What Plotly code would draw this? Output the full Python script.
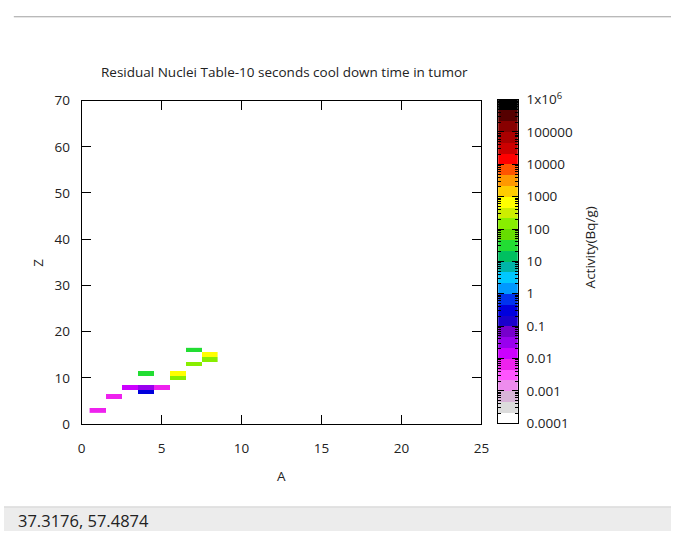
import numpy as np
import plotly.graph_objects as go

# Residual nuclei: mass number A, charge Z, activity in Bq/g
mass_number = [1, 2, 3, 4, 5, 4, 4, 6, 6, 7, 7, 8, 8]
charge = [3, 6, 8, 8, 8, 7, 11, 11, 10, 16, 13, 15, 14]
activity_bq_g = [0.007, 0.007, 0.015, 0.03, 0.006, 0.3, 30, 700, 150, 30, 150, 700, 150]

# Discrete palette: 30 bands, three per decade from 1e-4 to 1e6 (bottom to top)
band_colors = [
    "#ffffff", "#dcdcdc", "#d8b4d8", "#ee8cee", "#ff55ff", "#ee22ee",
    "#cc00ff", "#9900ee", "#7700cc", "#1a00cc", "#0000dd", "#0033ee",
    "#0099ff", "#00c8ff", "#00b4a8", "#00c060", "#22dd33", "#66dd00",
    "#88ee00", "#ccee00", "#ffff00", "#ffcc00", "#ff9900", "#ff5500",
    "#ff0000", "#cc0000", "#aa0000", "#880000", "#550000", "#000000",
]
log_min, log_max = -4, 6
cb_tickvals = list(range(log_min, log_max + 1))
cb_ticktext = ["0.0001", "0.001", "0.01", "0.1", "1", "10", "100",
               "1000", "10000", "100000", "1x10<sup>6</sup>"]
x_ticks = [0, 5, 10, 15, 20, 25]
y_ticks = [0, 10, 20, 30, 40, 50, 60, 70]

W, H = 679, 540
FONT = "Open Sans"
TXT = "#222222"
FS = 13.5


def px(x):
    return x / W


def py(y):
    return 1 - y / H


n_bands = len(band_colors)
colorscale = []
for i, c in enumerate(band_colors):
    colorscale.append([i / n_bands, c])
    colorscale.append([(i + 1) / n_bands, c])

# Fill the (A, Z) grid; empty cells stay transparent
a_axis = np.arange(min(mass_number), max(mass_number) + 1)
z_axis = np.arange(min(charge), max(charge) + 1)
grid = np.full((len(z_axis), len(a_axis)), np.nan)
for a, zc, act in zip(mass_number, charge, activity_bq_g):
    grid[zc - z_axis[0], a - a_axis[0]] = np.log10(act)

fig = go.Figure()
fig.add_trace(go.Heatmap(
    x=a_axis, y=z_axis, z=grid, coloraxis="coloraxis",
    hoverongaps=False, zsmooth=False,
))

# Colour key strip drawn on its own axes
band_step = (log_max - log_min) / n_bands
band_centers = [log_min + band_step * (i + 0.5) for i in range(n_bands)]
fig.add_trace(go.Heatmap(
    x=[0], y=band_centers, z=[[v] for v in band_centers],
    coloraxis="coloraxis", xaxis="x2", yaxis="y2", zsmooth=False,
    hoverinfo="skip",
))

minor_vals = [d + np.log10(k) for d in range(log_min, log_max) for k in range(2, 10)]

tick_font = dict(family=FONT, size=FS, color=TXT)
plot_x = [px(79), px(486)]
plot_y = [py(429), py(93)]

fig.update_layout(
    width=W, height=H,
    margin=dict(l=0, r=0, t=0, b=0),
    paper_bgcolor="white", plot_bgcolor="white",
    showlegend=False,
    coloraxis=dict(colorscale=colorscale, cmin=log_min, cmax=log_max, showscale=False),
    xaxis=dict(
        domain=plot_x, range=[0, 25], tickvals=x_ticks,
        ticks="inside", ticklen=9, tickcolor="black",
        showline=True, linecolor="black", linewidth=1, mirror="ticks",
        showgrid=False, zeroline=False, tickfont=tick_font,
        ticklabelstandoff=12,
    ),
    yaxis=dict(
        domain=plot_y, range=[0, 70], tickvals=y_ticks,
        ticks="inside", ticklen=9, tickcolor="black",
        showline=True, linecolor="black", linewidth=1, mirror="ticks",
        showgrid=False, zeroline=False, tickfont=tick_font,
        ticklabelstandoff=8,
    ),
    xaxis2=dict(
        domain=[px(503), px(523)], anchor="y2", range=[-0.5, 0.5],
        showticklabels=False, ticks="", showgrid=False, zeroline=False,
        showline=True, linecolor="black", linewidth=1, mirror=True,
    ),
    yaxis2=dict(
        domain=[py(428), py(92)], anchor="x2", side="right",
        range=[log_min, log_max], tickvals=cb_tickvals, ticktext=cb_ticktext,
        ticks="inside", ticklen=6, tickcolor="black",
        showline=True, linecolor="black", linewidth=1, mirror="ticks",
        showgrid=False, zeroline=False, tickfont=tick_font,
        ticklabelstandoff=5,
        minor=dict(tickmode="array", tickvals=minor_vals, ticks="inside",
                   ticklen=3, tickcolor="black", showgrid=False),
    ),
)

annotations = [
    dict(text="Residual Nuclei Table-10 seconds cool down time in tumor",
         x=px(286), y=py(63), font=dict(family=FONT, size=13.5, color=TXT)),
    dict(text="A", x=px(283), y=py(483), font=dict(family=FONT, size=FS, color=TXT)),
    dict(text="Z", x=px(35), y=py(261), textangle=-90,
         font=dict(family=FONT, size=FS, color=TXT)),
    dict(text="Activity(Bq/g)", x=px(596), y=py(245), textangle=-90,
         font=dict(family=FONT, size=FS, color=TXT)),
    dict(text="37.3176, 57.4874", x=px(12), y=py(529), xanchor="left",
         font=dict(family=FONT, size=16.5, color=TXT)),
]
for ann in annotations:
    ann.setdefault("xanchor", "center")
    ann.update(xref="paper", yref="paper", yanchor="middle", showarrow=False)
    fig.add_annotation(**ann)

# Status strip along the bottom and rule along the top
fig.add_shape(type="rect", xref="paper", yref="paper",
              x0=0, x1=1, y0=0, y1=py(515),
              fillcolor="#ececec", line=dict(width=0), layer="below")
fig.add_shape(type="line", xref="paper", yref="paper",
              x0=0, x1=1, y0=py(515), y1=py(515),
              line=dict(color="#cfcfcf", width=1))
fig.add_shape(type="line", xref="paper", yref="paper",
              x0=px(10), x1=1, y0=py(6), y1=py(6),
              line=dict(color="#a0a0a0", width=1))

fig.write_html("out.html")
